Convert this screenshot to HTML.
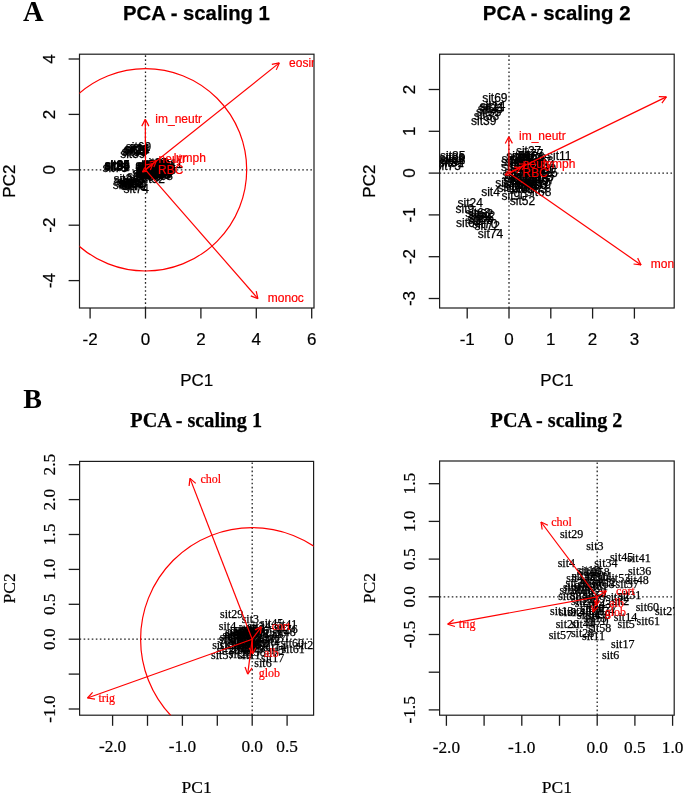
<!DOCTYPE html>
<html><head><meta charset="utf-8"><style>html,body{margin:0;padding:0;background:#fff;overflow:hidden}svg{display:block;filter:blur(0.4px)}</style></head><body>
<svg width="685" height="795" viewBox="0 0 685 795">
<rect width="685" height="795" fill="#fff"/>
<text x="23" y="21.2" font-family='"Liberation Serif", serif' font-size="28.5" fill="#000" text-anchor="start" font-weight="bold" >A</text>
<text x="23.3" y="407.9" font-family='"Liberation Serif", serif' font-size="28" fill="#000" text-anchor="start" font-weight="bold" >B</text>
<text x="196.4" y="20.2" font-family='"Liberation Sans", sans-serif' font-size="20.3" fill="#000" text-anchor="middle" font-weight="bold" stroke="#000" stroke-width="0.25" >PCA - scaling 1</text>
<text x="556.7" y="20.2" font-family='"Liberation Sans", sans-serif' font-size="20.4" fill="#000" text-anchor="middle" font-weight="bold" stroke="#000" stroke-width="0.25" >PCA - scaling 2</text>
<text x="196.2" y="427.2" font-family='"Liberation Serif", serif' font-size="20.2" fill="#000" text-anchor="middle" font-weight="bold" stroke="#000" stroke-width="0.25" >PCA - scaling 1</text>
<text x="556.5" y="427.2" font-family='"Liberation Serif", serif' font-size="20.2" fill="#000" text-anchor="middle" font-weight="bold" stroke="#000" stroke-width="0.25" >PCA - scaling 2</text>
<clipPath id="clipa1"><rect x="79.5" y="54.2" width="234.5" height="253.8"/></clipPath>
<line x1="79.5" y1="169.8" x2="314" y2="169.8" stroke="#222" stroke-width="1.3" stroke-dasharray="1.6 2.45"/>
<line x1="145.5" y1="308" x2="145.5" y2="54.2" stroke="#222" stroke-width="1.3" stroke-dasharray="1.6 2.45"/>
<rect x="79.5" y="54.2" width="234.5" height="253.8" fill="none" stroke="#1c1c1c" stroke-width="1.2"/>
<line x1="90.1" y1="308" x2="90.1" y2="318.6" stroke="#1c1c1c" stroke-width="1.3" />
<text x="90.1" y="345.1" font-family='"Liberation Sans", sans-serif' font-size="17" fill="#000" text-anchor="middle" font-weight="normal" stroke="#000" stroke-width="0.2" >-2</text>
<line x1="145.5" y1="308" x2="145.5" y2="318.6" stroke="#1c1c1c" stroke-width="1.3" />
<text x="145.5" y="345.1" font-family='"Liberation Sans", sans-serif' font-size="17" fill="#000" text-anchor="middle" font-weight="normal" stroke="#000" stroke-width="0.2" >0</text>
<line x1="200.9" y1="308" x2="200.9" y2="318.6" stroke="#1c1c1c" stroke-width="1.3" />
<text x="200.9" y="345.1" font-family='"Liberation Sans", sans-serif' font-size="17" fill="#000" text-anchor="middle" font-weight="normal" stroke="#000" stroke-width="0.2" >2</text>
<line x1="256.3" y1="308" x2="256.3" y2="318.6" stroke="#1c1c1c" stroke-width="1.3" />
<text x="256.3" y="345.1" font-family='"Liberation Sans", sans-serif' font-size="17" fill="#000" text-anchor="middle" font-weight="normal" stroke="#000" stroke-width="0.2" >4</text>
<line x1="311.7" y1="308" x2="311.7" y2="318.6" stroke="#1c1c1c" stroke-width="1.3" />
<text x="311.7" y="345.1" font-family='"Liberation Sans", sans-serif' font-size="17" fill="#000" text-anchor="middle" font-weight="normal" stroke="#000" stroke-width="0.2" >6</text>
<line x1="79.5" y1="280.6" x2="68.6" y2="280.6" stroke="#1c1c1c" stroke-width="1.3" />
<text x="55.2" y="280.6" font-family='"Liberation Sans", sans-serif' font-size="17" fill="#000" text-anchor="middle" font-weight="normal" transform="rotate(-90 55.2 280.6)" stroke="#000" stroke-width="0.2" >-4</text>
<line x1="79.5" y1="225.2" x2="68.6" y2="225.2" stroke="#1c1c1c" stroke-width="1.3" />
<text x="55.2" y="225.2" font-family='"Liberation Sans", sans-serif' font-size="17" fill="#000" text-anchor="middle" font-weight="normal" transform="rotate(-90 55.2 225.2)" stroke="#000" stroke-width="0.2" >-2</text>
<line x1="79.5" y1="169.8" x2="68.6" y2="169.8" stroke="#1c1c1c" stroke-width="1.3" />
<text x="55.2" y="169.8" font-family='"Liberation Sans", sans-serif' font-size="17" fill="#000" text-anchor="middle" font-weight="normal" transform="rotate(-90 55.2 169.8)" stroke="#000" stroke-width="0.2" >0</text>
<line x1="79.5" y1="114.4" x2="68.6" y2="114.4" stroke="#1c1c1c" stroke-width="1.3" />
<text x="55.2" y="114.4" font-family='"Liberation Sans", sans-serif' font-size="17" fill="#000" text-anchor="middle" font-weight="normal" transform="rotate(-90 55.2 114.4)" stroke="#000" stroke-width="0.2" >2</text>
<line x1="79.5" y1="59" x2="68.6" y2="59" stroke="#1c1c1c" stroke-width="1.3" />
<text x="55.2" y="59" font-family='"Liberation Sans", sans-serif' font-size="17" fill="#000" text-anchor="middle" font-weight="normal" transform="rotate(-90 55.2 59)" stroke="#000" stroke-width="0.2" >4</text>
<text x="196.75" y="385.6" font-family='"Liberation Sans", sans-serif' font-size="17" fill="#000" text-anchor="middle" font-weight="normal" stroke="#000" stroke-width="0.2" >PC1</text>
<text x="15.2" y="181.1" font-family='"Liberation Sans", sans-serif' font-size="17" fill="#000" text-anchor="middle" font-weight="normal" transform="rotate(-90 15.2 181.1)" stroke="#000" stroke-width="0.2" >PC2</text>
<g clip-path="url(#clipa1)">
<circle cx="145.5" cy="169.8" r="101.2" fill="none" stroke="#ff0000" stroke-width="1.2"/>
<text x="125.76" y="150.56" font-family='"Liberation Sans", sans-serif' font-size="12" fill="#000" text-anchor="start" font-weight="normal" stroke="#000" stroke-width="0.25" >sit69</text>
<text x="124.66" y="152.94" font-family='"Liberation Sans", sans-serif' font-size="12" fill="#000" text-anchor="start" font-weight="normal" stroke="#000" stroke-width="0.25" >sit14</text>
<text x="124.26" y="153.32" font-family='"Liberation Sans", sans-serif' font-size="12" fill="#000" text-anchor="start" font-weight="normal" stroke="#000" stroke-width="0.25" >sit21</text>
<text x="123.56" y="154" font-family='"Liberation Sans", sans-serif' font-size="12" fill="#000" text-anchor="start" font-weight="normal" stroke="#000" stroke-width="0.25" >sit25</text>
<text x="122.66" y="154.8" font-family='"Liberation Sans", sans-serif' font-size="12" fill="#000" text-anchor="start" font-weight="normal" stroke="#000" stroke-width="0.25" >sit35</text>
<text x="121.56" y="156.04" font-family='"Liberation Sans", sans-serif' font-size="12" fill="#000" text-anchor="start" font-weight="normal" stroke="#000" stroke-width="0.25" >sit33</text>
<text x="120.16" y="157.59" font-family='"Liberation Sans", sans-serif' font-size="12" fill="#000" text-anchor="start" font-weight="normal" stroke="#000" stroke-width="0.25" >sit39</text>
<text x="104.66" y="168.51" font-family='"Liberation Sans", sans-serif' font-size="12" fill="#000" text-anchor="start" font-weight="normal" stroke="#000" stroke-width="0.25" >sit85</text>
<text x="104.41" y="169.13" font-family='"Liberation Sans", sans-serif' font-size="12" fill="#000" text-anchor="start" font-weight="normal" stroke="#000" stroke-width="0.25" >sit86</text>
<text x="104.66" y="169.75" font-family='"Liberation Sans", sans-serif' font-size="12" fill="#000" text-anchor="start" font-weight="normal" stroke="#000" stroke-width="0.25" >sit88</text>
<text x="104.16" y="170.37" font-family='"Liberation Sans", sans-serif' font-size="12" fill="#000" text-anchor="start" font-weight="normal" stroke="#000" stroke-width="0.25" >sit84</text>
<text x="103.91" y="170.83" font-family='"Liberation Sans", sans-serif' font-size="12" fill="#000" text-anchor="start" font-weight="normal" stroke="#000" stroke-width="0.25" >sit81</text>
<text x="102.41" y="171.76" font-family='"Liberation Sans", sans-serif' font-size="12" fill="#000" text-anchor="start" font-weight="normal" stroke="#000" stroke-width="0.25" >sit75</text>
<text x="113.46" y="183.14" font-family='"Liberation Sans", sans-serif' font-size="12" fill="#000" text-anchor="start" font-weight="normal" stroke="#000" stroke-width="0.25" >sit24</text>
<text x="114.08" y="184.94" font-family='"Liberation Sans", sans-serif' font-size="12" fill="#000" text-anchor="start" font-weight="normal" stroke="#000" stroke-width="0.25" >sit9</text>
<text x="117.31" y="186.24" font-family='"Liberation Sans", sans-serif' font-size="12" fill="#000" text-anchor="start" font-weight="normal" stroke="#000" stroke-width="0.25" >sit63</text>
<text x="118.56" y="186.61" font-family='"Liberation Sans", sans-serif' font-size="12" fill="#000" text-anchor="start" font-weight="normal" stroke="#000" stroke-width="0.25" >sit62</text>
<text x="119.56" y="187.04" font-family='"Liberation Sans", sans-serif' font-size="12" fill="#000" text-anchor="start" font-weight="normal" stroke="#000" stroke-width="0.25" >sit42</text>
<text x="118.91" y="187.73" font-family='"Liberation Sans", sans-serif' font-size="12" fill="#000" text-anchor="start" font-weight="normal" stroke="#000" stroke-width="0.25" >sit65</text>
<text x="118.16" y="188.41" font-family='"Liberation Sans", sans-serif' font-size="12" fill="#000" text-anchor="start" font-weight="normal" stroke="#000" stroke-width="0.25" >sit66</text>
<text x="112.66" y="189.21" font-family='"Liberation Sans", sans-serif' font-size="12" fill="#000" text-anchor="start" font-weight="normal" stroke="#000" stroke-width="0.25" >sit64</text>
<text x="120.66" y="189.65" font-family='"Liberation Sans", sans-serif' font-size="12" fill="#000" text-anchor="start" font-weight="normal" stroke="#000" stroke-width="0.25" >sit70</text>
<text x="121.91" y="190.27" font-family='"Liberation Sans", sans-serif' font-size="12" fill="#000" text-anchor="start" font-weight="normal" stroke="#000" stroke-width="0.25" >sit72</text>
<text x="123.56" y="192.62" font-family='"Liberation Sans", sans-serif' font-size="12" fill="#000" text-anchor="start" font-weight="normal" stroke="#000" stroke-width="0.25" >sit74</text>
<text x="142.61" y="167.08" font-family='"Liberation Sans", sans-serif' font-size="12" fill="#000" text-anchor="start" font-weight="normal" stroke="#000" stroke-width="0.25" >sit27</text>
<text x="143.66" y="167.79" font-family='"Liberation Sans", sans-serif' font-size="12" fill="#000" text-anchor="start" font-weight="normal" stroke="#000" stroke-width="0.25" >sit77</text>
<text x="158.16" y="168.47" font-family='"Liberation Sans", sans-serif' font-size="12" fill="#000" text-anchor="start" font-weight="normal" stroke="#000" stroke-width="0.25" >sit11</text>
<text x="126.93" y="179.57" font-family='"Liberation Sans", sans-serif' font-size="12" fill="#000" text-anchor="start" font-weight="normal" stroke="#000" stroke-width="0.25" >sit4</text>
<text x="135.46" y="180.91" font-family='"Liberation Sans", sans-serif' font-size="12" fill="#000" text-anchor="start" font-weight="normal" stroke="#000" stroke-width="0.25" >sit90</text>
<text x="147.66" y="179.73" font-family='"Liberation Sans", sans-serif' font-size="12" fill="#000" text-anchor="start" font-weight="normal" stroke="#000" stroke-width="0.25" >sit68</text>
<text x="147.41" y="177.65" font-family='"Liberation Sans", sans-serif' font-size="12" fill="#000" text-anchor="start" font-weight="normal" stroke="#000" stroke-width="0.25" >sit79</text>
<text x="139.56" y="182.52" font-family='"Liberation Sans", sans-serif' font-size="12" fill="#000" text-anchor="start" font-weight="normal" stroke="#000" stroke-width="0.25" >sit52</text>
<text x="132.26" y="176.94" font-family='"Liberation Sans", sans-serif' font-size="12" fill="#000" text-anchor="start" font-weight="normal" stroke="#000" stroke-width="0.25" >sit38</text>
<text x="133.41" y="178.55" font-family='"Liberation Sans", sans-serif' font-size="12" fill="#000" text-anchor="start" font-weight="normal" stroke="#000" stroke-width="0.25" >sit18</text>
<text x="135.16" y="170.43" font-family='"Liberation Sans", sans-serif' font-size="12" fill="#000" text-anchor="start" font-weight="normal" stroke="#000" stroke-width="0.25" >sit47</text>
<text x="135.16" y="172.07" font-family='"Liberation Sans", sans-serif' font-size="12" fill="#000" text-anchor="start" font-weight="normal" stroke="#000" stroke-width="0.25" >sit48</text>
<text x="137.84" y="168.5" font-family='"Liberation Sans", sans-serif' font-size="12" fill="#000" text-anchor="start" font-weight="normal" stroke="#000" stroke-width="0.25" >sit51</text>
<text x="140.52" y="168.59" font-family='"Liberation Sans", sans-serif' font-size="12" fill="#000" text-anchor="start" font-weight="normal" stroke="#000" stroke-width="0.25" >sit16</text>
<text x="144.29" y="168.82" font-family='"Liberation Sans", sans-serif' font-size="12" fill="#000" text-anchor="start" font-weight="normal" stroke="#000" stroke-width="0.25" >sit56</text>
<text x="135.47" y="169.46" font-family='"Liberation Sans", sans-serif' font-size="12" fill="#000" text-anchor="start" font-weight="normal" stroke="#000" stroke-width="0.25" >sit37</text>
<text x="139.27" y="169.53" font-family='"Liberation Sans", sans-serif' font-size="12" fill="#000" text-anchor="start" font-weight="normal" stroke="#000" stroke-width="0.25" >sit18</text>
<text x="143.15" y="169.26" font-family='"Liberation Sans", sans-serif' font-size="12" fill="#000" text-anchor="start" font-weight="normal" stroke="#000" stroke-width="0.25" >sit17</text>
<text x="145.36" y="169.55" font-family='"Liberation Sans", sans-serif' font-size="12" fill="#000" text-anchor="start" font-weight="normal" stroke="#000" stroke-width="0.25" >sit38</text>
<text x="137.28" y="170.36" font-family='"Liberation Sans", sans-serif' font-size="12" fill="#000" text-anchor="start" font-weight="normal" stroke="#000" stroke-width="0.25" >sit17</text>
<text x="141.48" y="170.65" font-family='"Liberation Sans", sans-serif' font-size="12" fill="#000" text-anchor="start" font-weight="normal" stroke="#000" stroke-width="0.25" >sit38</text>
<text x="147.54" y="170.45" font-family='"Liberation Sans", sans-serif' font-size="12" fill="#000" text-anchor="start" font-weight="normal" stroke="#000" stroke-width="0.25" >sit47</text>
<text x="138.38" y="171.55" font-family='"Liberation Sans", sans-serif' font-size="12" fill="#000" text-anchor="start" font-weight="normal" stroke="#000" stroke-width="0.25" >sit83</text>
<text x="143.07" y="171.4" font-family='"Liberation Sans", sans-serif' font-size="12" fill="#000" text-anchor="start" font-weight="normal" stroke="#000" stroke-width="0.25" >sit33</text>
<text x="149.47" y="171.39" font-family='"Liberation Sans", sans-serif' font-size="12" fill="#000" text-anchor="start" font-weight="normal" stroke="#000" stroke-width="0.25" >sit34</text>
<text x="139.76" y="172.36" font-family='"Liberation Sans", sans-serif' font-size="12" fill="#000" text-anchor="start" font-weight="normal" stroke="#000" stroke-width="0.25" >sit18</text>
<text x="144.93" y="172.24" font-family='"Liberation Sans", sans-serif' font-size="12" fill="#000" text-anchor="start" font-weight="normal" stroke="#000" stroke-width="0.25" >sit73</text>
<text x="150.11" y="172.55" font-family='"Liberation Sans", sans-serif' font-size="12" fill="#000" text-anchor="start" font-weight="normal" stroke="#000" stroke-width="0.25" >sit50</text>
<text x="136.86" y="173.4" font-family='"Liberation Sans", sans-serif' font-size="12" fill="#000" text-anchor="start" font-weight="normal" stroke="#000" stroke-width="0.25" >sit56</text>
<text x="142.58" y="172.96" font-family='"Liberation Sans", sans-serif' font-size="12" fill="#000" text-anchor="start" font-weight="normal" stroke="#000" stroke-width="0.25" >sit99</text>
<text x="148.2" y="173.45" font-family='"Liberation Sans", sans-serif' font-size="12" fill="#000" text-anchor="start" font-weight="normal" stroke="#000" stroke-width="0.25" >sit48</text>
<text x="135.85" y="174.45" font-family='"Liberation Sans", sans-serif' font-size="12" fill="#000" text-anchor="start" font-weight="normal" stroke="#000" stroke-width="0.25" >sit67</text>
<text x="141.18" y="173.94" font-family='"Liberation Sans", sans-serif' font-size="12" fill="#000" text-anchor="start" font-weight="normal" stroke="#000" stroke-width="0.25" >sit25</text>
<text x="146.14" y="174.14" font-family='"Liberation Sans", sans-serif' font-size="12" fill="#000" text-anchor="start" font-weight="normal" stroke="#000" stroke-width="0.25" >sit53</text>
<text x="150.86" y="173.89" font-family='"Liberation Sans", sans-serif' font-size="12" fill="#000" text-anchor="start" font-weight="normal" stroke="#000" stroke-width="0.25" >sit15</text>
<text x="136.77" y="175.31" font-family='"Liberation Sans", sans-serif' font-size="12" fill="#000" text-anchor="start" font-weight="normal" stroke="#000" stroke-width="0.25" >sit81</text>
<text x="142.42" y="174.99" font-family='"Liberation Sans", sans-serif' font-size="12" fill="#000" text-anchor="start" font-weight="normal" stroke="#000" stroke-width="0.25" >sit50</text>
<text x="148.78" y="175.05" font-family='"Liberation Sans", sans-serif' font-size="12" fill="#000" text-anchor="start" font-weight="normal" stroke="#000" stroke-width="0.25" >sit73</text>
<text x="136.33" y="175.99" font-family='"Liberation Sans", sans-serif' font-size="12" fill="#000" text-anchor="start" font-weight="normal" stroke="#000" stroke-width="0.25" >sit21</text>
<text x="140.01" y="176.15" font-family='"Liberation Sans", sans-serif' font-size="12" fill="#000" text-anchor="start" font-weight="normal" stroke="#000" stroke-width="0.25" >sit95</text>
<text x="146.38" y="176.31" font-family='"Liberation Sans", sans-serif' font-size="12" fill="#000" text-anchor="start" font-weight="normal" stroke="#000" stroke-width="0.25" >sit49</text>
<text x="149.34" y="175.94" font-family='"Liberation Sans", sans-serif' font-size="12" fill="#000" text-anchor="start" font-weight="normal" stroke="#000" stroke-width="0.25" >sit67</text>
<text x="137.43" y="177.21" font-family='"Liberation Sans", sans-serif' font-size="12" fill="#000" text-anchor="start" font-weight="normal" stroke="#000" stroke-width="0.25" >sit95</text>
<text x="142.67" y="176.7" font-family='"Liberation Sans", sans-serif' font-size="12" fill="#000" text-anchor="start" font-weight="normal" stroke="#000" stroke-width="0.25" >sit55</text>
<text x="147.24" y="176.81" font-family='"Liberation Sans", sans-serif' font-size="12" fill="#000" text-anchor="start" font-weight="normal" stroke="#000" stroke-width="0.25" >sit17</text>
<text x="136.01" y="178.13" font-family='"Liberation Sans", sans-serif' font-size="12" fill="#000" text-anchor="start" font-weight="normal" stroke="#000" stroke-width="0.25" >sit41</text>
<text x="140.53" y="177.84" font-family='"Liberation Sans", sans-serif' font-size="12" fill="#000" text-anchor="start" font-weight="normal" stroke="#000" stroke-width="0.25" >sit73</text>
<text x="145.33" y="177.64" font-family='"Liberation Sans", sans-serif' font-size="12" fill="#000" text-anchor="start" font-weight="normal" stroke="#000" stroke-width="0.25" >sit80</text>
<text x="139.21" y="178.66" font-family='"Liberation Sans", sans-serif' font-size="12" fill="#000" text-anchor="start" font-weight="normal" stroke="#000" stroke-width="0.25" >sit65</text>
<text x="145.39" y="178.91" font-family='"Liberation Sans", sans-serif' font-size="12" fill="#000" text-anchor="start" font-weight="normal" stroke="#000" stroke-width="0.25" >sit63</text>
<line x1="145.5" y1="169.8" x2="145.3" y2="119.4" stroke="#ff0000" stroke-width="1.2" />
<line x1="145.3" y1="119.4" x2="141.76" y2="126.12" stroke="#ff0000" stroke-width="1.2" />
<line x1="145.3" y1="119.4" x2="148.89" y2="126.1" stroke="#ff0000" stroke-width="1.2" />
<line x1="145.5" y1="169.8" x2="279.3" y2="62.9" stroke="#ff0000" stroke-width="1.2" />
<line x1="279.3" y1="62.9" x2="271.83" y2="64.3" stroke="#ff0000" stroke-width="1.2" />
<line x1="279.3" y1="62.9" x2="276.28" y2="69.88" stroke="#ff0000" stroke-width="1.2" />
<line x1="145.5" y1="169.8" x2="257.9" y2="298.6" stroke="#ff0000" stroke-width="1.2" />
<line x1="257.9" y1="298.6" x2="256.18" y2="291.2" stroke="#ff0000" stroke-width="1.2" />
<line x1="257.9" y1="298.6" x2="250.8" y2="295.89" stroke="#ff0000" stroke-width="1.2" />
<line x1="145.5" y1="169.8" x2="156.5" y2="160.5" stroke="#ff0000" stroke-width="1.2" />
<line x1="156.5" y1="160.5" x2="149.66" y2="161.98" stroke="#ff0000" stroke-width="1.2" />
<line x1="156.5" y1="160.5" x2="153.9" y2="167" stroke="#ff0000" stroke-width="1.2" />
<line x1="145.5" y1="169.8" x2="153" y2="163.5" stroke="#ff0000" stroke-width="1.2" />
<line x1="153" y1="163.5" x2="146.15" y2="164.96" stroke="#ff0000" stroke-width="1.2" />
<line x1="153" y1="163.5" x2="150.38" y2="169.99" stroke="#ff0000" stroke-width="1.2" />
<line x1="145.5" y1="169.8" x2="142.5" y2="172" stroke="#ff0000" stroke-width="1.2" />
<line x1="142.5" y1="172" x2="147.45" y2="171.28" stroke="#ff0000" stroke-width="1.2" />
<line x1="142.5" y1="172" x2="144.67" y2="167.5" stroke="#ff0000" stroke-width="1.2" />
<text x="155.3" y="122.9" font-family='"Liberation Sans", sans-serif' font-size="12" fill="#ff0000" text-anchor="start" font-weight="normal" stroke="#ff0000" stroke-width="0.2" >im_neutr</text>
<text x="289.1" y="67.1" font-family='"Liberation Sans", sans-serif' font-size="12" fill="#ff0000" text-anchor="start" font-weight="normal" stroke="#ff0000" stroke-width="0.2" >eosin</text>
<text x="267.8" y="302.2" font-family='"Liberation Sans", sans-serif' font-size="12" fill="#ff0000" text-anchor="start" font-weight="normal" stroke="#ff0000" stroke-width="0.2" >monoc</text>
<text x="158.6" y="163.2" font-family='"Liberation Sans", sans-serif' font-size="12" fill="#ff0000" text-anchor="start" font-weight="normal" stroke="#ff0000" stroke-width="0.2" >neutr</text>
<text x="173.8" y="162.2" font-family='"Liberation Sans", sans-serif' font-size="12" fill="#ff0000" text-anchor="start" font-weight="normal" stroke="#ff0000" stroke-width="0.2" >lymph</text>
<text x="158" y="173.6" font-family='"Liberation Sans", sans-serif' font-size="12" fill="#ff0000" text-anchor="start" font-weight="normal" stroke="#ff0000" stroke-width="0.2" >RBC</text>
</g>
<clipPath id="clipa2"><rect x="439.6" y="54.2" width="234.6" height="253.8"/></clipPath>
<line x1="439.6" y1="173.1" x2="674.2" y2="173.1" stroke="#222" stroke-width="1.3" stroke-dasharray="1.6 2.45"/>
<line x1="509" y1="308" x2="509" y2="54.2" stroke="#222" stroke-width="1.3" stroke-dasharray="1.6 2.45"/>
<rect x="439.6" y="54.2" width="234.6" height="253.8" fill="none" stroke="#1c1c1c" stroke-width="1.2"/>
<line x1="467.2" y1="308" x2="467.2" y2="318.6" stroke="#1c1c1c" stroke-width="1.3" />
<text x="467.2" y="345.1" font-family='"Liberation Sans", sans-serif' font-size="17" fill="#000" text-anchor="middle" font-weight="normal" stroke="#000" stroke-width="0.2" >-1</text>
<line x1="509" y1="308" x2="509" y2="318.6" stroke="#1c1c1c" stroke-width="1.3" />
<text x="509" y="345.1" font-family='"Liberation Sans", sans-serif' font-size="17" fill="#000" text-anchor="middle" font-weight="normal" stroke="#000" stroke-width="0.2" >0</text>
<line x1="550.8" y1="308" x2="550.8" y2="318.6" stroke="#1c1c1c" stroke-width="1.3" />
<text x="550.8" y="345.1" font-family='"Liberation Sans", sans-serif' font-size="17" fill="#000" text-anchor="middle" font-weight="normal" stroke="#000" stroke-width="0.2" >1</text>
<line x1="592.6" y1="308" x2="592.6" y2="318.6" stroke="#1c1c1c" stroke-width="1.3" />
<text x="592.6" y="345.1" font-family='"Liberation Sans", sans-serif' font-size="17" fill="#000" text-anchor="middle" font-weight="normal" stroke="#000" stroke-width="0.2" >2</text>
<line x1="634.4" y1="308" x2="634.4" y2="318.6" stroke="#1c1c1c" stroke-width="1.3" />
<text x="634.4" y="345.1" font-family='"Liberation Sans", sans-serif' font-size="17" fill="#000" text-anchor="middle" font-weight="normal" stroke="#000" stroke-width="0.2" >3</text>
<line x1="439.6" y1="298.5" x2="428.7" y2="298.5" stroke="#1c1c1c" stroke-width="1.3" />
<text x="415.3" y="298.5" font-family='"Liberation Sans", sans-serif' font-size="17" fill="#000" text-anchor="middle" font-weight="normal" transform="rotate(-90 415.3 298.5)" stroke="#000" stroke-width="0.2" >-3</text>
<line x1="439.6" y1="256.7" x2="428.7" y2="256.7" stroke="#1c1c1c" stroke-width="1.3" />
<text x="415.3" y="256.7" font-family='"Liberation Sans", sans-serif' font-size="17" fill="#000" text-anchor="middle" font-weight="normal" transform="rotate(-90 415.3 256.7)" stroke="#000" stroke-width="0.2" >-2</text>
<line x1="439.6" y1="214.9" x2="428.7" y2="214.9" stroke="#1c1c1c" stroke-width="1.3" />
<text x="415.3" y="214.9" font-family='"Liberation Sans", sans-serif' font-size="17" fill="#000" text-anchor="middle" font-weight="normal" transform="rotate(-90 415.3 214.9)" stroke="#000" stroke-width="0.2" >-1</text>
<line x1="439.6" y1="173.1" x2="428.7" y2="173.1" stroke="#1c1c1c" stroke-width="1.3" />
<text x="415.3" y="173.1" font-family='"Liberation Sans", sans-serif' font-size="17" fill="#000" text-anchor="middle" font-weight="normal" transform="rotate(-90 415.3 173.1)" stroke="#000" stroke-width="0.2" >0</text>
<line x1="439.6" y1="131.3" x2="428.7" y2="131.3" stroke="#1c1c1c" stroke-width="1.3" />
<text x="415.3" y="131.3" font-family='"Liberation Sans", sans-serif' font-size="17" fill="#000" text-anchor="middle" font-weight="normal" transform="rotate(-90 415.3 131.3)" stroke="#000" stroke-width="0.2" >1</text>
<line x1="439.6" y1="89.5" x2="428.7" y2="89.5" stroke="#1c1c1c" stroke-width="1.3" />
<text x="415.3" y="89.5" font-family='"Liberation Sans", sans-serif' font-size="17" fill="#000" text-anchor="middle" font-weight="normal" transform="rotate(-90 415.3 89.5)" stroke="#000" stroke-width="0.2" >2</text>
<text x="556.9" y="385.6" font-family='"Liberation Sans", sans-serif' font-size="17" fill="#000" text-anchor="middle" font-weight="normal" stroke="#000" stroke-width="0.2" >PC1</text>
<text x="375.3" y="181.1" font-family='"Liberation Sans", sans-serif' font-size="17" fill="#000" text-anchor="middle" font-weight="normal" transform="rotate(-90 375.3 181.1)" stroke="#000" stroke-width="0.2" >PC2</text>
<g clip-path="url(#clipa2)">
<text x="482.2" y="101.9" font-family='"Liberation Sans", sans-serif' font-size="12" fill="#000" text-anchor="start" font-weight="normal" stroke="#000" stroke-width="0.25" >sit69</text>
<text x="480" y="109.6" font-family='"Liberation Sans", sans-serif' font-size="12" fill="#000" text-anchor="start" font-weight="normal" stroke="#000" stroke-width="0.25" >sit14</text>
<text x="479.2" y="110.8" font-family='"Liberation Sans", sans-serif' font-size="12" fill="#000" text-anchor="start" font-weight="normal" stroke="#000" stroke-width="0.25" >sit21</text>
<text x="477.8" y="113" font-family='"Liberation Sans", sans-serif' font-size="12" fill="#000" text-anchor="start" font-weight="normal" stroke="#000" stroke-width="0.25" >sit25</text>
<text x="476" y="115.6" font-family='"Liberation Sans", sans-serif' font-size="12" fill="#000" text-anchor="start" font-weight="normal" stroke="#000" stroke-width="0.25" >sit35</text>
<text x="473.8" y="119.6" font-family='"Liberation Sans", sans-serif' font-size="12" fill="#000" text-anchor="start" font-weight="normal" stroke="#000" stroke-width="0.25" >sit33</text>
<text x="471" y="124.6" font-family='"Liberation Sans", sans-serif' font-size="12" fill="#000" text-anchor="start" font-weight="normal" stroke="#000" stroke-width="0.25" >sit39</text>
<text x="440" y="159.8" font-family='"Liberation Sans", sans-serif' font-size="12" fill="#000" text-anchor="start" font-weight="normal" stroke="#000" stroke-width="0.25" >sit85</text>
<text x="439.5" y="161.8" font-family='"Liberation Sans", sans-serif' font-size="12" fill="#000" text-anchor="start" font-weight="normal" stroke="#000" stroke-width="0.25" >sit86</text>
<text x="440" y="163.8" font-family='"Liberation Sans", sans-serif' font-size="12" fill="#000" text-anchor="start" font-weight="normal" stroke="#000" stroke-width="0.25" >sit88</text>
<text x="439" y="165.8" font-family='"Liberation Sans", sans-serif' font-size="12" fill="#000" text-anchor="start" font-weight="normal" stroke="#000" stroke-width="0.25" >sit84</text>
<text x="438.5" y="167.3" font-family='"Liberation Sans", sans-serif' font-size="12" fill="#000" text-anchor="start" font-weight="normal" stroke="#000" stroke-width="0.25" >sit81</text>
<text x="435.5" y="170.3" font-family='"Liberation Sans", sans-serif' font-size="12" fill="#000" text-anchor="start" font-weight="normal" stroke="#000" stroke-width="0.25" >sit75</text>
<text x="457.6" y="207" font-family='"Liberation Sans", sans-serif' font-size="12" fill="#000" text-anchor="start" font-weight="normal" stroke="#000" stroke-width="0.25" >sit24</text>
<text x="455.5" y="212.8" font-family='"Liberation Sans", sans-serif' font-size="12" fill="#000" text-anchor="start" font-weight="normal" stroke="#000" stroke-width="0.25" >sit9</text>
<text x="465.3" y="217" font-family='"Liberation Sans", sans-serif' font-size="12" fill="#000" text-anchor="start" font-weight="normal" stroke="#000" stroke-width="0.25" >sit63</text>
<text x="467.8" y="218.2" font-family='"Liberation Sans", sans-serif' font-size="12" fill="#000" text-anchor="start" font-weight="normal" stroke="#000" stroke-width="0.25" >sit62</text>
<text x="469.8" y="219.6" font-family='"Liberation Sans", sans-serif' font-size="12" fill="#000" text-anchor="start" font-weight="normal" stroke="#000" stroke-width="0.25" >sit42</text>
<text x="468.5" y="221.8" font-family='"Liberation Sans", sans-serif' font-size="12" fill="#000" text-anchor="start" font-weight="normal" stroke="#000" stroke-width="0.25" >sit65</text>
<text x="467" y="224" font-family='"Liberation Sans", sans-serif' font-size="12" fill="#000" text-anchor="start" font-weight="normal" stroke="#000" stroke-width="0.25" >sit66</text>
<text x="456" y="226.6" font-family='"Liberation Sans", sans-serif' font-size="12" fill="#000" text-anchor="start" font-weight="normal" stroke="#000" stroke-width="0.25" >sit64</text>
<text x="472" y="228" font-family='"Liberation Sans", sans-serif' font-size="12" fill="#000" text-anchor="start" font-weight="normal" stroke="#000" stroke-width="0.25" >sit70</text>
<text x="474.5" y="230" font-family='"Liberation Sans", sans-serif' font-size="12" fill="#000" text-anchor="start" font-weight="normal" stroke="#000" stroke-width="0.25" >sit72</text>
<text x="477.8" y="237.6" font-family='"Liberation Sans", sans-serif' font-size="12" fill="#000" text-anchor="start" font-weight="normal" stroke="#000" stroke-width="0.25" >sit74</text>
<text x="515.9" y="155.2" font-family='"Liberation Sans", sans-serif' font-size="12" fill="#000" text-anchor="start" font-weight="normal" stroke="#000" stroke-width="0.25" >sit27</text>
<text x="518" y="157.5" font-family='"Liberation Sans", sans-serif' font-size="12" fill="#000" text-anchor="start" font-weight="normal" stroke="#000" stroke-width="0.25" >sit77</text>
<text x="547" y="159.7" font-family='"Liberation Sans", sans-serif' font-size="12" fill="#000" text-anchor="start" font-weight="normal" stroke="#000" stroke-width="0.25" >sit11</text>
<text x="481.2" y="195.5" font-family='"Liberation Sans", sans-serif' font-size="12" fill="#000" text-anchor="start" font-weight="normal" stroke="#000" stroke-width="0.25" >sit4</text>
<text x="501.6" y="199.8" font-family='"Liberation Sans", sans-serif' font-size="12" fill="#000" text-anchor="start" font-weight="normal" stroke="#000" stroke-width="0.25" >sit90</text>
<text x="526" y="196" font-family='"Liberation Sans", sans-serif' font-size="12" fill="#000" text-anchor="start" font-weight="normal" stroke="#000" stroke-width="0.25" >sit68</text>
<text x="525.5" y="189.3" font-family='"Liberation Sans", sans-serif' font-size="12" fill="#000" text-anchor="start" font-weight="normal" stroke="#000" stroke-width="0.25" >sit79</text>
<text x="509.8" y="205" font-family='"Liberation Sans", sans-serif' font-size="12" fill="#000" text-anchor="start" font-weight="normal" stroke="#000" stroke-width="0.25" >sit52</text>
<text x="495.2" y="187" font-family='"Liberation Sans", sans-serif' font-size="12" fill="#000" text-anchor="start" font-weight="normal" stroke="#000" stroke-width="0.25" >sit38</text>
<text x="497.5" y="192.2" font-family='"Liberation Sans", sans-serif' font-size="12" fill="#000" text-anchor="start" font-weight="normal" stroke="#000" stroke-width="0.25" >sit18</text>
<text x="501" y="166" font-family='"Liberation Sans", sans-serif' font-size="12" fill="#000" text-anchor="start" font-weight="normal" stroke="#000" stroke-width="0.25" >sit47</text>
<text x="501" y="171.3" font-family='"Liberation Sans", sans-serif' font-size="12" fill="#000" text-anchor="start" font-weight="normal" stroke="#000" stroke-width="0.25" >sit48</text>
<text x="506.34" y="159.79" font-family='"Liberation Sans", sans-serif' font-size="12" fill="#000" text-anchor="start" font-weight="normal" stroke="#000" stroke-width="0.25" >sit51</text>
<text x="511.72" y="160.07" font-family='"Liberation Sans", sans-serif' font-size="12" fill="#000" text-anchor="start" font-weight="normal" stroke="#000" stroke-width="0.25" >sit16</text>
<text x="519.25" y="160.82" font-family='"Liberation Sans", sans-serif' font-size="12" fill="#000" text-anchor="start" font-weight="normal" stroke="#000" stroke-width="0.25" >sit56</text>
<text x="501.61" y="162.87" font-family='"Liberation Sans", sans-serif' font-size="12" fill="#000" text-anchor="start" font-weight="normal" stroke="#000" stroke-width="0.25" >sit37</text>
<text x="509.22" y="163.1" font-family='"Liberation Sans", sans-serif' font-size="12" fill="#000" text-anchor="start" font-weight="normal" stroke="#000" stroke-width="0.25" >sit18</text>
<text x="516.98" y="162.25" font-family='"Liberation Sans", sans-serif' font-size="12" fill="#000" text-anchor="start" font-weight="normal" stroke="#000" stroke-width="0.25" >sit17</text>
<text x="521.39" y="163.17" font-family='"Liberation Sans", sans-serif' font-size="12" fill="#000" text-anchor="start" font-weight="normal" stroke="#000" stroke-width="0.25" >sit38</text>
<text x="505.23" y="165.79" font-family='"Liberation Sans", sans-serif' font-size="12" fill="#000" text-anchor="start" font-weight="normal" stroke="#000" stroke-width="0.25" >sit17</text>
<text x="513.64" y="166.72" font-family='"Liberation Sans", sans-serif' font-size="12" fill="#000" text-anchor="start" font-weight="normal" stroke="#000" stroke-width="0.25" >sit38</text>
<text x="525.76" y="166.08" font-family='"Liberation Sans", sans-serif' font-size="12" fill="#000" text-anchor="start" font-weight="normal" stroke="#000" stroke-width="0.25" >sit47</text>
<text x="507.43" y="169.63" font-family='"Liberation Sans", sans-serif' font-size="12" fill="#000" text-anchor="start" font-weight="normal" stroke="#000" stroke-width="0.25" >sit83</text>
<text x="516.81" y="169.14" font-family='"Liberation Sans", sans-serif' font-size="12" fill="#000" text-anchor="start" font-weight="normal" stroke="#000" stroke-width="0.25" >sit33</text>
<text x="529.62" y="169.1" font-family='"Liberation Sans", sans-serif' font-size="12" fill="#000" text-anchor="start" font-weight="normal" stroke="#000" stroke-width="0.25" >sit34</text>
<text x="510.19" y="172.24" font-family='"Liberation Sans", sans-serif' font-size="12" fill="#000" text-anchor="start" font-weight="normal" stroke="#000" stroke-width="0.25" >sit18</text>
<text x="520.54" y="171.86" font-family='"Liberation Sans", sans-serif' font-size="12" fill="#000" text-anchor="start" font-weight="normal" stroke="#000" stroke-width="0.25" >sit73</text>
<text x="530.9" y="172.85" font-family='"Liberation Sans", sans-serif' font-size="12" fill="#000" text-anchor="start" font-weight="normal" stroke="#000" stroke-width="0.25" >sit50</text>
<text x="504.4" y="175.59" font-family='"Liberation Sans", sans-serif' font-size="12" fill="#000" text-anchor="start" font-weight="normal" stroke="#000" stroke-width="0.25" >sit56</text>
<text x="515.84" y="174.16" font-family='"Liberation Sans", sans-serif' font-size="12" fill="#000" text-anchor="start" font-weight="normal" stroke="#000" stroke-width="0.25" >sit99</text>
<text x="527.08" y="175.75" font-family='"Liberation Sans", sans-serif' font-size="12" fill="#000" text-anchor="start" font-weight="normal" stroke="#000" stroke-width="0.25" >sit48</text>
<text x="502.36" y="178.96" font-family='"Liberation Sans", sans-serif' font-size="12" fill="#000" text-anchor="start" font-weight="normal" stroke="#000" stroke-width="0.25" >sit67</text>
<text x="513.04" y="177.33" font-family='"Liberation Sans", sans-serif' font-size="12" fill="#000" text-anchor="start" font-weight="normal" stroke="#000" stroke-width="0.25" >sit25</text>
<text x="522.96" y="177.98" font-family='"Liberation Sans", sans-serif' font-size="12" fill="#000" text-anchor="start" font-weight="normal" stroke="#000" stroke-width="0.25" >sit53</text>
<text x="532.39" y="177.16" font-family='"Liberation Sans", sans-serif' font-size="12" fill="#000" text-anchor="start" font-weight="normal" stroke="#000" stroke-width="0.25" >sit15</text>
<text x="504.22" y="181.75" font-family='"Liberation Sans", sans-serif' font-size="12" fill="#000" text-anchor="start" font-weight="normal" stroke="#000" stroke-width="0.25" >sit81</text>
<text x="515.52" y="180.7" font-family='"Liberation Sans", sans-serif' font-size="12" fill="#000" text-anchor="start" font-weight="normal" stroke="#000" stroke-width="0.25" >sit50</text>
<text x="528.24" y="180.91" font-family='"Liberation Sans", sans-serif' font-size="12" fill="#000" text-anchor="start" font-weight="normal" stroke="#000" stroke-width="0.25" >sit73</text>
<text x="503.33" y="183.95" font-family='"Liberation Sans", sans-serif' font-size="12" fill="#000" text-anchor="start" font-weight="normal" stroke="#000" stroke-width="0.25" >sit21</text>
<text x="510.69" y="184.46" font-family='"Liberation Sans", sans-serif' font-size="12" fill="#000" text-anchor="start" font-weight="normal" stroke="#000" stroke-width="0.25" >sit95</text>
<text x="523.44" y="184.99" font-family='"Liberation Sans", sans-serif' font-size="12" fill="#000" text-anchor="start" font-weight="normal" stroke="#000" stroke-width="0.25" >sit49</text>
<text x="529.35" y="183.77" font-family='"Liberation Sans", sans-serif' font-size="12" fill="#000" text-anchor="start" font-weight="normal" stroke="#000" stroke-width="0.25" >sit67</text>
<text x="505.54" y="187.88" font-family='"Liberation Sans", sans-serif' font-size="12" fill="#000" text-anchor="start" font-weight="normal" stroke="#000" stroke-width="0.25" >sit95</text>
<text x="516" y="186.23" font-family='"Liberation Sans", sans-serif' font-size="12" fill="#000" text-anchor="start" font-weight="normal" stroke="#000" stroke-width="0.25" >sit55</text>
<text x="525.15" y="186.57" font-family='"Liberation Sans", sans-serif' font-size="12" fill="#000" text-anchor="start" font-weight="normal" stroke="#000" stroke-width="0.25" >sit17</text>
<text x="502.69" y="190.83" font-family='"Liberation Sans", sans-serif' font-size="12" fill="#000" text-anchor="start" font-weight="normal" stroke="#000" stroke-width="0.25" >sit41</text>
<text x="511.74" y="189.9" font-family='"Liberation Sans", sans-serif' font-size="12" fill="#000" text-anchor="start" font-weight="normal" stroke="#000" stroke-width="0.25" >sit73</text>
<text x="521.33" y="189.27" font-family='"Liberation Sans", sans-serif' font-size="12" fill="#000" text-anchor="start" font-weight="normal" stroke="#000" stroke-width="0.25" >sit80</text>
<text x="509.09" y="192.56" font-family='"Liberation Sans", sans-serif' font-size="12" fill="#000" text-anchor="start" font-weight="normal" stroke="#000" stroke-width="0.25" >sit65</text>
<text x="521.46" y="193.37" font-family='"Liberation Sans", sans-serif' font-size="12" fill="#000" text-anchor="start" font-weight="normal" stroke="#000" stroke-width="0.25" >sit63</text>
<line x1="509" y1="173.1" x2="508.8" y2="136.7" stroke="#ff0000" stroke-width="1.2" />
<line x1="508.8" y1="136.7" x2="505.27" y2="143.43" stroke="#ff0000" stroke-width="1.2" />
<line x1="508.8" y1="136.7" x2="512.4" y2="143.39" stroke="#ff0000" stroke-width="1.2" />
<line x1="509" y1="173.1" x2="666.4" y2="96.9" stroke="#ff0000" stroke-width="1.2" />
<line x1="666.4" y1="96.9" x2="658.81" y2="96.61" stroke="#ff0000" stroke-width="1.2" />
<line x1="666.4" y1="96.9" x2="661.91" y2="103.04" stroke="#ff0000" stroke-width="1.2" />
<line x1="509" y1="173.1" x2="641.1" y2="264.9" stroke="#ff0000" stroke-width="1.2" />
<line x1="641.1" y1="264.9" x2="637.63" y2="258.14" stroke="#ff0000" stroke-width="1.2" />
<line x1="641.1" y1="264.9" x2="633.55" y2="264" stroke="#ff0000" stroke-width="1.2" />
<line x1="509" y1="173.1" x2="526" y2="164" stroke="#ff0000" stroke-width="1.2" />
<line x1="526" y1="164" x2="519" y2="164.02" stroke="#ff0000" stroke-width="1.2" />
<line x1="526" y1="164" x2="522.1" y2="169.81" stroke="#ff0000" stroke-width="1.2" />
<line x1="509" y1="173.1" x2="521" y2="167.5" stroke="#ff0000" stroke-width="1.2" />
<line x1="521" y1="167.5" x2="514.01" y2="167.14" stroke="#ff0000" stroke-width="1.2" />
<line x1="521" y1="167.5" x2="516.79" y2="173.09" stroke="#ff0000" stroke-width="1.2" />
<line x1="509" y1="173.1" x2="505" y2="175" stroke="#ff0000" stroke-width="1.2" />
<line x1="505" y1="175" x2="509.99" y2="175.23" stroke="#ff0000" stroke-width="1.2" />
<line x1="505" y1="175" x2="507.98" y2="170.99" stroke="#ff0000" stroke-width="1.2" />
<text x="519" y="140.4" font-family='"Liberation Sans", sans-serif' font-size="12" fill="#ff0000" text-anchor="start" font-weight="normal" stroke="#ff0000" stroke-width="0.2" >im_neutr</text>
<text x="522.8" y="168" font-family='"Liberation Sans", sans-serif' font-size="12" fill="#ff0000" text-anchor="start" font-weight="normal" stroke="#ff0000" stroke-width="0.2" >neutr</text>
<text x="543.3" y="167.7" font-family='"Liberation Sans", sans-serif' font-size="12" fill="#ff0000" text-anchor="start" font-weight="normal" stroke="#ff0000" stroke-width="0.2" >lymph</text>
<text x="522.6" y="177.2" font-family='"Liberation Sans", sans-serif' font-size="12" fill="#ff0000" text-anchor="start" font-weight="normal" stroke="#ff0000" stroke-width="0.2" >RBC</text>
<text x="650.8" y="268.3" font-family='"Liberation Sans", sans-serif' font-size="12" fill="#ff0000" text-anchor="start" font-weight="normal" stroke="#ff0000" stroke-width="0.2" >monoc</text>
<text x="676.5" y="101" font-family='"Liberation Sans", sans-serif' font-size="12" fill="#ff0000" text-anchor="start" font-weight="normal" stroke="#ff0000" stroke-width="0.2" >eosin</text>
</g>
<clipPath id="clipb1"><rect x="79.6" y="461.4" width="234" height="253.8"/></clipPath>
<line x1="79.6" y1="639.2" x2="313.6" y2="639.2" stroke="#222" stroke-width="1.3" stroke-dasharray="1.6 2.45"/>
<line x1="252.2" y1="715.2" x2="252.2" y2="461.4" stroke="#222" stroke-width="1.3" stroke-dasharray="1.6 2.45"/>
<rect x="79.6" y="461.4" width="234" height="253.8" fill="none" stroke="#1c1c1c" stroke-width="1.2"/>
<line x1="112.6" y1="715.2" x2="112.6" y2="725.8" stroke="#1c1c1c" stroke-width="1.3" />
<text x="112.6" y="752.4" font-family='"Liberation Serif", serif' font-size="17.3" fill="#000" text-anchor="middle" font-weight="normal" stroke="#000" stroke-width="0.2" >-2.0</text>
<line x1="147.5" y1="715.2" x2="147.5" y2="725.8" stroke="#1c1c1c" stroke-width="1.3" />
<line x1="182.4" y1="715.2" x2="182.4" y2="725.8" stroke="#1c1c1c" stroke-width="1.3" />
<text x="182.4" y="752.4" font-family='"Liberation Serif", serif' font-size="17.3" fill="#000" text-anchor="middle" font-weight="normal" stroke="#000" stroke-width="0.2" >-1.0</text>
<line x1="217.3" y1="715.2" x2="217.3" y2="725.8" stroke="#1c1c1c" stroke-width="1.3" />
<line x1="252.2" y1="715.2" x2="252.2" y2="725.8" stroke="#1c1c1c" stroke-width="1.3" />
<text x="252.2" y="752.4" font-family='"Liberation Serif", serif' font-size="17.3" fill="#000" text-anchor="middle" font-weight="normal" stroke="#000" stroke-width="0.2" >0.0</text>
<line x1="287.1" y1="715.2" x2="287.1" y2="725.8" stroke="#1c1c1c" stroke-width="1.3" />
<text x="287.1" y="752.4" font-family='"Liberation Serif", serif' font-size="17.3" fill="#000" text-anchor="middle" font-weight="normal" stroke="#000" stroke-width="0.2" >0.5</text>
<line x1="79.6" y1="709" x2="68.7" y2="709" stroke="#1c1c1c" stroke-width="1.3" />
<text x="55.4" y="709" font-family='"Liberation Serif", serif' font-size="17.3" fill="#000" text-anchor="middle" font-weight="normal" transform="rotate(-90 55.4 709)" stroke="#000" stroke-width="0.2" >-1.0</text>
<line x1="79.6" y1="674.1" x2="68.7" y2="674.1" stroke="#1c1c1c" stroke-width="1.3" />
<line x1="79.6" y1="639.2" x2="68.7" y2="639.2" stroke="#1c1c1c" stroke-width="1.3" />
<text x="55.4" y="639.2" font-family='"Liberation Serif", serif' font-size="17.3" fill="#000" text-anchor="middle" font-weight="normal" transform="rotate(-90 55.4 639.2)" stroke="#000" stroke-width="0.2" >0.0</text>
<line x1="79.6" y1="604.3" x2="68.7" y2="604.3" stroke="#1c1c1c" stroke-width="1.3" />
<text x="55.4" y="604.3" font-family='"Liberation Serif", serif' font-size="17.3" fill="#000" text-anchor="middle" font-weight="normal" transform="rotate(-90 55.4 604.3)" stroke="#000" stroke-width="0.2" >0.5</text>
<line x1="79.6" y1="569.4" x2="68.7" y2="569.4" stroke="#1c1c1c" stroke-width="1.3" />
<text x="55.4" y="569.4" font-family='"Liberation Serif", serif' font-size="17.3" fill="#000" text-anchor="middle" font-weight="normal" transform="rotate(-90 55.4 569.4)" stroke="#000" stroke-width="0.2" >1.0</text>
<line x1="79.6" y1="534.5" x2="68.7" y2="534.5" stroke="#1c1c1c" stroke-width="1.3" />
<text x="55.4" y="534.5" font-family='"Liberation Serif", serif' font-size="17.3" fill="#000" text-anchor="middle" font-weight="normal" transform="rotate(-90 55.4 534.5)" stroke="#000" stroke-width="0.2" >1.5</text>
<line x1="79.6" y1="499.6" x2="68.7" y2="499.6" stroke="#1c1c1c" stroke-width="1.3" />
<text x="55.4" y="499.6" font-family='"Liberation Serif", serif' font-size="17.3" fill="#000" text-anchor="middle" font-weight="normal" transform="rotate(-90 55.4 499.6)" stroke="#000" stroke-width="0.2" >2.0</text>
<line x1="79.6" y1="464.7" x2="68.7" y2="464.7" stroke="#1c1c1c" stroke-width="1.3" />
<text x="55.4" y="464.7" font-family='"Liberation Serif", serif' font-size="17.3" fill="#000" text-anchor="middle" font-weight="normal" transform="rotate(-90 55.4 464.7)" stroke="#000" stroke-width="0.2" >2.5</text>
<text x="196.6" y="793" font-family='"Liberation Serif", serif' font-size="17.5" fill="#000" text-anchor="middle" font-weight="normal" stroke="#000" stroke-width="0.2" >PC1</text>
<text x="15.1" y="588.3" font-family='"Liberation Serif", serif' font-size="17.5" fill="#000" text-anchor="middle" font-weight="normal" transform="rotate(-90 15.1 588.3)" stroke="#000" stroke-width="0.2" >PC2</text>
<g clip-path="url(#clipb1)">
<circle cx="252.2" cy="639.2" r="111.6" fill="none" stroke="#ff0000" stroke-width="1.2"/>
<text x="220.03" y="618.22" font-family='"Liberation Serif", serif' font-size="12" fill="#000" text-anchor="start" font-weight="normal" stroke="#000" stroke-width="0.25" >sit29</text>
<text x="241.67" y="623.02" font-family='"Liberation Serif", serif' font-size="12" fill="#000" text-anchor="start" font-weight="normal" stroke="#000" stroke-width="0.25" >sit3</text>
<text x="218.87" y="629.74" font-family='"Liberation Serif", serif' font-size="12" fill="#000" text-anchor="start" font-weight="normal" stroke="#000" stroke-width="0.25" >sit4</text>
<text x="247.47" y="629.9" font-family='"Liberation Serif", serif' font-size="12" fill="#000" text-anchor="start" font-weight="normal" stroke="#000" stroke-width="0.25" >sit34</text>
<text x="260.03" y="627.22" font-family='"Liberation Serif", serif' font-size="12" fill="#000" text-anchor="start" font-weight="normal" stroke="#000" stroke-width="0.25" >sit45</text>
<text x="273.95" y="627.7" font-family='"Liberation Serif", serif' font-size="12" fill="#000" text-anchor="start" font-weight="normal" stroke="#000" stroke-width="0.25" >sit41</text>
<text x="274.43" y="632.9" font-family='"Liberation Serif", serif' font-size="12" fill="#000" text-anchor="start" font-weight="normal" stroke="#000" stroke-width="0.25" >sit36</text>
<text x="257.55" y="635.66" font-family='"Liberation Serif", serif' font-size="12" fill="#000" text-anchor="start" font-weight="normal" stroke="#000" stroke-width="0.25" >sit53</text>
<text x="272.43" y="636.38" font-family='"Liberation Serif", serif' font-size="12" fill="#000" text-anchor="start" font-weight="normal" stroke="#000" stroke-width="0.25" >sit48</text>
<text x="264.51" y="638.1" font-family='"Liberation Serif", serif' font-size="12" fill="#000" text-anchor="start" font-weight="normal" stroke="#000" stroke-width="0.25" >sit37</text>
<text x="266.51" y="642.34" font-family='"Liberation Serif", serif' font-size="12" fill="#000" text-anchor="start" font-weight="normal" stroke="#000" stroke-width="0.25" >sit31</text>
<text x="280.67" y="647.3" font-family='"Liberation Serif", serif' font-size="12" fill="#000" text-anchor="start" font-weight="normal" stroke="#000" stroke-width="0.25" >sit60</text>
<text x="296.03" y="648.74" font-family='"Liberation Serif", serif' font-size="12" fill="#000" text-anchor="start" font-weight="normal" stroke="#000" stroke-width="0.25" >sit27</text>
<text x="281.39" y="652.78" font-family='"Liberation Serif", serif' font-size="12" fill="#000" text-anchor="start" font-weight="normal" stroke="#000" stroke-width="0.25" >sit61</text>
<text x="263.15" y="651.3" font-family='"Liberation Serif", serif' font-size="12" fill="#000" text-anchor="start" font-weight="normal" stroke="#000" stroke-width="0.25" >sit14</text>
<text x="266.71" y="654.22" font-family='"Liberation Serif", serif' font-size="12" fill="#000" text-anchor="start" font-weight="normal" stroke="#000" stroke-width="0.25" >sit5</text>
<text x="260.99" y="662.02" font-family='"Liberation Serif", serif' font-size="12" fill="#000" text-anchor="start" font-weight="normal" stroke="#000" stroke-width="0.25" >sit17</text>
<text x="254.31" y="666.62" font-family='"Liberation Serif", serif' font-size="12" fill="#000" text-anchor="start" font-weight="normal" stroke="#000" stroke-width="0.25" >sit6</text>
<text x="237.71" y="659.06" font-family='"Liberation Serif", serif' font-size="12" fill="#000" text-anchor="start" font-weight="normal" stroke="#000" stroke-width="0.25" >sit11</text>
<text x="242.51" y="655.54" font-family='"Liberation Serif", serif' font-size="12" fill="#000" text-anchor="start" font-weight="normal" stroke="#000" stroke-width="0.25" >sit58</text>
<text x="228.83" y="657.9" font-family='"Liberation Serif", serif' font-size="12" fill="#000" text-anchor="start" font-weight="normal" stroke="#000" stroke-width="0.25" >sit28</text>
<text x="211.07" y="658.58" font-family='"Liberation Serif", serif' font-size="12" fill="#000" text-anchor="start" font-weight="normal" stroke="#000" stroke-width="0.25" >sit57</text>
<text x="216.67" y="654.06" font-family='"Liberation Serif", serif' font-size="12" fill="#000" text-anchor="start" font-weight="normal" stroke="#000" stroke-width="0.25" >sit20</text>
<text x="229.31" y="654.06" font-family='"Liberation Serif", serif' font-size="12" fill="#000" text-anchor="start" font-weight="normal" stroke="#000" stroke-width="0.25" >sit44</text>
<text x="233.47" y="632.58" font-family='"Liberation Serif", serif' font-size="12" fill="#000" text-anchor="start" font-weight="normal" stroke="#000" stroke-width="0.25" >sit19</text>
<text x="234.91" y="633.06" font-family='"Liberation Serif", serif' font-size="12" fill="#000" text-anchor="start" font-weight="normal" stroke="#000" stroke-width="0.25" >sit40</text>
<text x="240.11" y="635.26" font-family='"Liberation Serif", serif' font-size="12" fill="#000" text-anchor="start" font-weight="normal" stroke="#000" stroke-width="0.25" >sit50</text>
<text x="246.51" y="637.46" font-family='"Liberation Serif", serif' font-size="12" fill="#000" text-anchor="start" font-weight="normal" stroke="#000" stroke-width="0.25" >sit12</text>
<text x="262.31" y="644.86" font-family='"Liberation Serif", serif' font-size="12" fill="#000" text-anchor="start" font-weight="normal" stroke="#000" stroke-width="0.25" >sit2</text>
<text x="256.91" y="643.46" font-family='"Liberation Serif", serif' font-size="12" fill="#000" text-anchor="start" font-weight="normal" stroke="#000" stroke-width="0.25" >sit32</text>
<text x="241.2" y="633.38" font-family='"Liberation Serif", serif' font-size="12" fill="#000" text-anchor="start" font-weight="normal" stroke="#000" stroke-width="0.25" >sit58</text>
<text x="229.67" y="634.99" font-family='"Liberation Serif", serif' font-size="12" fill="#000" text-anchor="start" font-weight="normal" stroke="#000" stroke-width="0.25" >sit32</text>
<text x="244.07" y="634.93" font-family='"Liberation Serif", serif' font-size="12" fill="#000" text-anchor="start" font-weight="normal" stroke="#000" stroke-width="0.25" >sit11</text>
<text x="225.18" y="635.78" font-family='"Liberation Serif", serif' font-size="12" fill="#000" text-anchor="start" font-weight="normal" stroke="#000" stroke-width="0.25" >sit43</text>
<text x="235.79" y="636.11" font-family='"Liberation Serif", serif' font-size="12" fill="#000" text-anchor="start" font-weight="normal" stroke="#000" stroke-width="0.25" >sit78</text>
<text x="224.56" y="637.87" font-family='"Liberation Serif", serif' font-size="12" fill="#000" text-anchor="start" font-weight="normal" stroke="#000" stroke-width="0.25" >sit26</text>
<text x="234.08" y="638.05" font-family='"Liberation Serif", serif' font-size="12" fill="#000" text-anchor="start" font-weight="normal" stroke="#000" stroke-width="0.25" >sit89</text>
<text x="245.06" y="638.08" font-family='"Liberation Serif", serif' font-size="12" fill="#000" text-anchor="start" font-weight="normal" stroke="#000" stroke-width="0.25" >sit68</text>
<text x="222.42" y="639.17" font-family='"Liberation Serif", serif' font-size="12" fill="#000" text-anchor="start" font-weight="normal" stroke="#000" stroke-width="0.25" >sit97</text>
<text x="231.05" y="639.25" font-family='"Liberation Serif", serif' font-size="12" fill="#000" text-anchor="start" font-weight="normal" stroke="#000" stroke-width="0.25" >sit61</text>
<text x="239.86" y="638.91" font-family='"Liberation Serif", serif' font-size="12" fill="#000" text-anchor="start" font-weight="normal" stroke="#000" stroke-width="0.25" >sit61</text>
<text x="219.64" y="640.51" font-family='"Liberation Serif", serif' font-size="12" fill="#000" text-anchor="start" font-weight="normal" stroke="#000" stroke-width="0.25" >sit36</text>
<text x="227.83" y="640.42" font-family='"Liberation Serif", serif' font-size="12" fill="#000" text-anchor="start" font-weight="normal" stroke="#000" stroke-width="0.25" >sit86</text>
<text x="238.59" y="641.18" font-family='"Liberation Serif", serif' font-size="12" fill="#000" text-anchor="start" font-weight="normal" stroke="#000" stroke-width="0.25" >sit29</text>
<text x="218.65" y="642.88" font-family='"Liberation Serif", serif' font-size="12" fill="#000" text-anchor="start" font-weight="normal" stroke="#000" stroke-width="0.25" >sit88</text>
<text x="228.61" y="642.69" font-family='"Liberation Serif", serif' font-size="12" fill="#000" text-anchor="start" font-weight="normal" stroke="#000" stroke-width="0.25" >sit88</text>
<text x="238.75" y="642.56" font-family='"Liberation Serif", serif' font-size="12" fill="#000" text-anchor="start" font-weight="normal" stroke="#000" stroke-width="0.25" >sit54</text>
<text x="228.94" y="644.85" font-family='"Liberation Serif", serif' font-size="12" fill="#000" text-anchor="start" font-weight="normal" stroke="#000" stroke-width="0.25" >sit24</text>
<text x="237.66" y="644.31" font-family='"Liberation Serif", serif' font-size="12" fill="#000" text-anchor="start" font-weight="normal" stroke="#000" stroke-width="0.25" >sit69</text>
<text x="231.95" y="645.93" font-family='"Liberation Serif", serif' font-size="12" fill="#000" text-anchor="start" font-weight="normal" stroke="#000" stroke-width="0.25" >sit28</text>
<text x="242.45" y="646.21" font-family='"Liberation Serif", serif' font-size="12" fill="#000" text-anchor="start" font-weight="normal" stroke="#000" stroke-width="0.25" >sit43</text>
<text x="236.56" y="647.82" font-family='"Liberation Serif", serif' font-size="12" fill="#000" text-anchor="start" font-weight="normal" stroke="#000" stroke-width="0.25" >sit76</text>
<text x="246.97" y="647.61" font-family='"Liberation Serif", serif' font-size="12" fill="#000" text-anchor="start" font-weight="normal" stroke="#000" stroke-width="0.25" >sit77</text>
<text x="212.17" y="648.86" font-family='"Liberation Serif", serif' font-size="12" fill="#000" text-anchor="start" font-weight="normal" stroke="#000" stroke-width="0.25" >sit13</text>
<text x="219.38" y="649.18" font-family='"Liberation Serif", serif' font-size="12" fill="#000" text-anchor="start" font-weight="normal" stroke="#000" stroke-width="0.25" >sit92</text>
<text x="226.55" y="649.35" font-family='"Liberation Serif", serif' font-size="12" fill="#000" text-anchor="start" font-weight="normal" stroke="#000" stroke-width="0.25" >sit43</text>
<text x="236.76" y="649.05" font-family='"Liberation Serif", serif' font-size="12" fill="#000" text-anchor="start" font-weight="normal" stroke="#000" stroke-width="0.25" >sit55</text>
<text x="245.3" y="648.8" font-family='"Liberation Serif", serif' font-size="12" fill="#000" text-anchor="start" font-weight="normal" stroke="#000" stroke-width="0.25" >sit74</text>
<text x="233.64" y="650.71" font-family='"Liberation Serif", serif' font-size="12" fill="#000" text-anchor="start" font-weight="normal" stroke="#000" stroke-width="0.25" >sit34</text>
<text x="241.79" y="650.45" font-family='"Liberation Serif", serif' font-size="12" fill="#000" text-anchor="start" font-weight="normal" stroke="#000" stroke-width="0.25" >sit39</text>
<text x="238.88" y="651.89" font-family='"Liberation Serif", serif' font-size="12" fill="#000" text-anchor="start" font-weight="normal" stroke="#000" stroke-width="0.25" >sit13</text>
<text x="240.33" y="653.01" font-family='"Liberation Serif", serif' font-size="12" fill="#000" text-anchor="start" font-weight="normal" stroke="#000" stroke-width="0.25" >sit70</text>
<line x1="252.2" y1="639.2" x2="190" y2="478.4" stroke="#ff0000" stroke-width="1.2" />
<line x1="190" y1="478.4" x2="189.09" y2="485.95" stroke="#ff0000" stroke-width="1.2" />
<line x1="190" y1="478.4" x2="195.75" y2="483.37" stroke="#ff0000" stroke-width="1.2" />
<line x1="252.2" y1="639.2" x2="87.5" y2="698" stroke="#ff0000" stroke-width="1.2" />
<line x1="87.5" y1="698" x2="95.02" y2="699.1" stroke="#ff0000" stroke-width="1.2" />
<line x1="87.5" y1="698" x2="92.62" y2="692.38" stroke="#ff0000" stroke-width="1.2" />
<line x1="252.2" y1="639.2" x2="247.7" y2="674.1" stroke="#ff0000" stroke-width="1.2" />
<line x1="247.7" y1="674.1" x2="252.1" y2="667.9" stroke="#ff0000" stroke-width="1.2" />
<line x1="247.7" y1="674.1" x2="245.02" y2="666.99" stroke="#ff0000" stroke-width="1.2" />
<line x1="252.2" y1="639.2" x2="261.3" y2="626.8" stroke="#ff0000" stroke-width="1.2" />
<line x1="261.3" y1="626.8" x2="254.99" y2="629.84" stroke="#ff0000" stroke-width="1.2" />
<line x1="261.3" y1="626.8" x2="260.29" y2="633.73" stroke="#ff0000" stroke-width="1.2" />
<line x1="252.2" y1="639.2" x2="252.6" y2="654" stroke="#ff0000" stroke-width="1.2" />
<line x1="252.6" y1="654" x2="255.72" y2="647.73" stroke="#ff0000" stroke-width="1.2" />
<line x1="252.6" y1="654" x2="249.15" y2="647.91" stroke="#ff0000" stroke-width="1.2" />
<text x="200.5" y="482.8" font-family='"Liberation Serif", serif' font-size="12" fill="#ff0000" text-anchor="start" font-weight="normal" stroke="#ff0000" stroke-width="0.2" >chol</text>
<text x="98.4" y="702.2" font-family='"Liberation Serif", serif' font-size="12" fill="#ff0000" text-anchor="start" font-weight="normal" stroke="#ff0000" stroke-width="0.2" >trig</text>
<text x="258.7" y="677.4" font-family='"Liberation Serif", serif' font-size="12" fill="#ff0000" text-anchor="start" font-weight="normal" stroke="#ff0000" stroke-width="0.2" >glob</text>
<text x="271.8" y="630.1" font-family='"Liberation Serif", serif' font-size="12" fill="#ff0000" text-anchor="start" font-weight="normal" stroke="#ff0000" stroke-width="0.2" >cort</text>
<text x="264" y="657.3" font-family='"Liberation Serif", serif' font-size="12" fill="#ff0000" text-anchor="start" font-weight="normal" stroke="#ff0000" stroke-width="0.2" >alb</text>
</g>
<clipPath id="clipb2"><rect x="439.6" y="461" width="234.6" height="254.2"/></clipPath>
<line x1="439.6" y1="596.8" x2="674.2" y2="596.8" stroke="#222" stroke-width="1.3" stroke-dasharray="1.6 2.45"/>
<line x1="597.2" y1="715.2" x2="597.2" y2="461" stroke="#222" stroke-width="1.3" stroke-dasharray="1.6 2.45"/>
<rect x="439.6" y="461" width="234.6" height="254.2" fill="none" stroke="#1c1c1c" stroke-width="1.2"/>
<line x1="446.4" y1="715.2" x2="446.4" y2="725.8" stroke="#1c1c1c" stroke-width="1.3" />
<text x="446.4" y="753" font-family='"Liberation Serif", serif' font-size="17.3" fill="#000" text-anchor="middle" font-weight="normal" stroke="#000" stroke-width="0.2" >-2.0</text>
<line x1="484.1" y1="715.2" x2="484.1" y2="725.8" stroke="#1c1c1c" stroke-width="1.3" />
<line x1="521.8" y1="715.2" x2="521.8" y2="725.8" stroke="#1c1c1c" stroke-width="1.3" />
<text x="521.8" y="753" font-family='"Liberation Serif", serif' font-size="17.3" fill="#000" text-anchor="middle" font-weight="normal" stroke="#000" stroke-width="0.2" >-1.0</text>
<line x1="559.5" y1="715.2" x2="559.5" y2="725.8" stroke="#1c1c1c" stroke-width="1.3" />
<line x1="597.2" y1="715.2" x2="597.2" y2="725.8" stroke="#1c1c1c" stroke-width="1.3" />
<text x="597.2" y="753" font-family='"Liberation Serif", serif' font-size="17.3" fill="#000" text-anchor="middle" font-weight="normal" stroke="#000" stroke-width="0.2" >0.0</text>
<line x1="634.9" y1="715.2" x2="634.9" y2="725.8" stroke="#1c1c1c" stroke-width="1.3" />
<text x="634.9" y="753" font-family='"Liberation Serif", serif' font-size="17.3" fill="#000" text-anchor="middle" font-weight="normal" stroke="#000" stroke-width="0.2" >0.5</text>
<line x1="672.6" y1="715.2" x2="672.6" y2="725.8" stroke="#1c1c1c" stroke-width="1.3" />
<text x="672.6" y="753" font-family='"Liberation Serif", serif' font-size="17.3" fill="#000" text-anchor="middle" font-weight="normal" stroke="#000" stroke-width="0.2" >1.0</text>
<line x1="439.6" y1="709.9" x2="428.7" y2="709.9" stroke="#1c1c1c" stroke-width="1.3" />
<text x="415.4" y="709.9" font-family='"Liberation Serif", serif' font-size="17.3" fill="#000" text-anchor="middle" font-weight="normal" transform="rotate(-90 415.4 709.9)" stroke="#000" stroke-width="0.2" >-1.5</text>
<line x1="439.6" y1="672.2" x2="428.7" y2="672.2" stroke="#1c1c1c" stroke-width="1.3" />
<line x1="439.6" y1="634.5" x2="428.7" y2="634.5" stroke="#1c1c1c" stroke-width="1.3" />
<text x="415.4" y="634.5" font-family='"Liberation Serif", serif' font-size="17.3" fill="#000" text-anchor="middle" font-weight="normal" transform="rotate(-90 415.4 634.5)" stroke="#000" stroke-width="0.2" >-0.5</text>
<line x1="439.6" y1="596.8" x2="428.7" y2="596.8" stroke="#1c1c1c" stroke-width="1.3" />
<text x="415.4" y="596.8" font-family='"Liberation Serif", serif' font-size="17.3" fill="#000" text-anchor="middle" font-weight="normal" transform="rotate(-90 415.4 596.8)" stroke="#000" stroke-width="0.2" >0.0</text>
<line x1="439.6" y1="559.1" x2="428.7" y2="559.1" stroke="#1c1c1c" stroke-width="1.3" />
<text x="415.4" y="559.1" font-family='"Liberation Serif", serif' font-size="17.3" fill="#000" text-anchor="middle" font-weight="normal" transform="rotate(-90 415.4 559.1)" stroke="#000" stroke-width="0.2" >0.5</text>
<line x1="439.6" y1="521.4" x2="428.7" y2="521.4" stroke="#1c1c1c" stroke-width="1.3" />
<text x="415.4" y="521.4" font-family='"Liberation Serif", serif' font-size="17.3" fill="#000" text-anchor="middle" font-weight="normal" transform="rotate(-90 415.4 521.4)" stroke="#000" stroke-width="0.2" >1.0</text>
<line x1="439.6" y1="483.7" x2="428.7" y2="483.7" stroke="#1c1c1c" stroke-width="1.3" />
<text x="415.4" y="483.7" font-family='"Liberation Serif", serif' font-size="17.3" fill="#000" text-anchor="middle" font-weight="normal" transform="rotate(-90 415.4 483.7)" stroke="#000" stroke-width="0.2" >1.5</text>
<text x="556.9" y="793" font-family='"Liberation Serif", serif' font-size="17.5" fill="#000" text-anchor="middle" font-weight="normal" stroke="#000" stroke-width="0.2" >PC1</text>
<text x="375.1" y="588.1" font-family='"Liberation Serif", serif' font-size="17.5" fill="#000" text-anchor="middle" font-weight="normal" transform="rotate(-90 375.1 588.1)" stroke="#000" stroke-width="0.2" >PC2</text>
<g clip-path="url(#clipb2)">
<text x="559.9" y="538.2" font-family='"Liberation Serif", serif' font-size="12" fill="#000" text-anchor="start" font-weight="normal" stroke="#000" stroke-width="0.25" >sit29</text>
<text x="586.2" y="550.2" font-family='"Liberation Serif", serif' font-size="12" fill="#000" text-anchor="start" font-weight="normal" stroke="#000" stroke-width="0.25" >sit3</text>
<text x="557.7" y="567" font-family='"Liberation Serif", serif' font-size="12" fill="#000" text-anchor="start" font-weight="normal" stroke="#000" stroke-width="0.25" >sit4</text>
<text x="594.2" y="567.4" font-family='"Liberation Serif", serif' font-size="12" fill="#000" text-anchor="start" font-weight="normal" stroke="#000" stroke-width="0.25" >sit34</text>
<text x="609.9" y="560.7" font-family='"Liberation Serif", serif' font-size="12" fill="#000" text-anchor="start" font-weight="normal" stroke="#000" stroke-width="0.25" >sit45</text>
<text x="627.3" y="561.9" font-family='"Liberation Serif", serif' font-size="12" fill="#000" text-anchor="start" font-weight="normal" stroke="#000" stroke-width="0.25" >sit41</text>
<text x="627.9" y="574.9" font-family='"Liberation Serif", serif' font-size="12" fill="#000" text-anchor="start" font-weight="normal" stroke="#000" stroke-width="0.25" >sit36</text>
<text x="606.8" y="581.8" font-family='"Liberation Serif", serif' font-size="12" fill="#000" text-anchor="start" font-weight="normal" stroke="#000" stroke-width="0.25" >sit53</text>
<text x="625.4" y="583.6" font-family='"Liberation Serif", serif' font-size="12" fill="#000" text-anchor="start" font-weight="normal" stroke="#000" stroke-width="0.25" >sit48</text>
<text x="615.5" y="587.9" font-family='"Liberation Serif", serif' font-size="12" fill="#000" text-anchor="start" font-weight="normal" stroke="#000" stroke-width="0.25" >sit37</text>
<text x="618" y="598.5" font-family='"Liberation Serif", serif' font-size="12" fill="#000" text-anchor="start" font-weight="normal" stroke="#000" stroke-width="0.25" >sit31</text>
<text x="635.7" y="610.9" font-family='"Liberation Serif", serif' font-size="12" fill="#000" text-anchor="start" font-weight="normal" stroke="#000" stroke-width="0.25" >sit60</text>
<text x="654.9" y="614.5" font-family='"Liberation Serif", serif' font-size="12" fill="#000" text-anchor="start" font-weight="normal" stroke="#000" stroke-width="0.25" >sit27</text>
<text x="636.6" y="624.6" font-family='"Liberation Serif", serif' font-size="12" fill="#000" text-anchor="start" font-weight="normal" stroke="#000" stroke-width="0.25" >sit61</text>
<text x="613.8" y="620.9" font-family='"Liberation Serif", serif' font-size="12" fill="#000" text-anchor="start" font-weight="normal" stroke="#000" stroke-width="0.25" >sit14</text>
<text x="617.5" y="628.2" font-family='"Liberation Serif", serif' font-size="12" fill="#000" text-anchor="start" font-weight="normal" stroke="#000" stroke-width="0.25" >sit5</text>
<text x="611.1" y="647.7" font-family='"Liberation Serif", serif' font-size="12" fill="#000" text-anchor="start" font-weight="normal" stroke="#000" stroke-width="0.25" >sit17</text>
<text x="602" y="659.2" font-family='"Liberation Serif", serif' font-size="12" fill="#000" text-anchor="start" font-weight="normal" stroke="#000" stroke-width="0.25" >sit6</text>
<text x="582" y="640.3" font-family='"Liberation Serif", serif' font-size="12" fill="#000" text-anchor="start" font-weight="normal" stroke="#000" stroke-width="0.25" >sit11</text>
<text x="588" y="631.5" font-family='"Liberation Serif", serif' font-size="12" fill="#000" text-anchor="start" font-weight="normal" stroke="#000" stroke-width="0.25" >sit58</text>
<text x="570.9" y="637.4" font-family='"Liberation Serif", serif' font-size="12" fill="#000" text-anchor="start" font-weight="normal" stroke="#000" stroke-width="0.25" >sit28</text>
<text x="548.7" y="639.1" font-family='"Liberation Serif", serif' font-size="12" fill="#000" text-anchor="start" font-weight="normal" stroke="#000" stroke-width="0.25" >sit57</text>
<text x="555.7" y="627.8" font-family='"Liberation Serif", serif' font-size="12" fill="#000" text-anchor="start" font-weight="normal" stroke="#000" stroke-width="0.25" >sit20</text>
<text x="571.5" y="627.8" font-family='"Liberation Serif", serif' font-size="12" fill="#000" text-anchor="start" font-weight="normal" stroke="#000" stroke-width="0.25" >sit44</text>
<text x="576.7" y="574.1" font-family='"Liberation Serif", serif' font-size="12" fill="#000" text-anchor="start" font-weight="normal" stroke="#000" stroke-width="0.25" >sit19</text>
<text x="578.5" y="575.3" font-family='"Liberation Serif", serif' font-size="12" fill="#000" text-anchor="start" font-weight="normal" stroke="#000" stroke-width="0.25" >sit40</text>
<text x="585" y="580.8" font-family='"Liberation Serif", serif' font-size="12" fill="#000" text-anchor="start" font-weight="normal" stroke="#000" stroke-width="0.25" >sit50</text>
<text x="593" y="586.3" font-family='"Liberation Serif", serif' font-size="12" fill="#000" text-anchor="start" font-weight="normal" stroke="#000" stroke-width="0.25" >sit12</text>
<text x="612" y="604.8" font-family='"Liberation Serif", serif' font-size="12" fill="#000" text-anchor="start" font-weight="normal" stroke="#000" stroke-width="0.25" >sit2</text>
<text x="606" y="601.3" font-family='"Liberation Serif", serif' font-size="12" fill="#000" text-anchor="start" font-weight="normal" stroke="#000" stroke-width="0.25" >sit32</text>
<text x="586.37" y="576.1" font-family='"Liberation Serif", serif' font-size="12" fill="#000" text-anchor="start" font-weight="normal" stroke="#000" stroke-width="0.25" >sit58</text>
<text x="571.95" y="580.12" font-family='"Liberation Serif", serif' font-size="12" fill="#000" text-anchor="start" font-weight="normal" stroke="#000" stroke-width="0.25" >sit32</text>
<text x="589.95" y="579.98" font-family='"Liberation Serif", serif' font-size="12" fill="#000" text-anchor="start" font-weight="normal" stroke="#000" stroke-width="0.25" >sit11</text>
<text x="566.35" y="582.09" font-family='"Liberation Serif", serif' font-size="12" fill="#000" text-anchor="start" font-weight="normal" stroke="#000" stroke-width="0.25" >sit43</text>
<text x="579.61" y="582.93" font-family='"Liberation Serif", serif' font-size="12" fill="#000" text-anchor="start" font-weight="normal" stroke="#000" stroke-width="0.25" >sit78</text>
<text x="565.57" y="587.33" font-family='"Liberation Serif", serif' font-size="12" fill="#000" text-anchor="start" font-weight="normal" stroke="#000" stroke-width="0.25" >sit26</text>
<text x="577.46" y="587.78" font-family='"Liberation Serif", serif' font-size="12" fill="#000" text-anchor="start" font-weight="normal" stroke="#000" stroke-width="0.25" >sit89</text>
<text x="591.2" y="587.86" font-family='"Liberation Serif", serif' font-size="12" fill="#000" text-anchor="start" font-weight="normal" stroke="#000" stroke-width="0.25" >sit68</text>
<text x="562.89" y="590.58" font-family='"Liberation Serif", serif' font-size="12" fill="#000" text-anchor="start" font-weight="normal" stroke="#000" stroke-width="0.25" >sit97</text>
<text x="573.68" y="590.76" font-family='"Liberation Serif", serif' font-size="12" fill="#000" text-anchor="start" font-weight="normal" stroke="#000" stroke-width="0.25" >sit61</text>
<text x="584.69" y="589.93" font-family='"Liberation Serif", serif' font-size="12" fill="#000" text-anchor="start" font-weight="normal" stroke="#000" stroke-width="0.25" >sit61</text>
<text x="559.42" y="593.92" font-family='"Liberation Serif", serif' font-size="12" fill="#000" text-anchor="start" font-weight="normal" stroke="#000" stroke-width="0.25" >sit36</text>
<text x="569.66" y="593.7" font-family='"Liberation Serif", serif' font-size="12" fill="#000" text-anchor="start" font-weight="normal" stroke="#000" stroke-width="0.25" >sit86</text>
<text x="583.11" y="595.6" font-family='"Liberation Serif", serif' font-size="12" fill="#000" text-anchor="start" font-weight="normal" stroke="#000" stroke-width="0.25" >sit29</text>
<text x="558.18" y="599.85" font-family='"Liberation Serif", serif' font-size="12" fill="#000" text-anchor="start" font-weight="normal" stroke="#000" stroke-width="0.25" >sit88</text>
<text x="570.63" y="599.37" font-family='"Liberation Serif", serif' font-size="12" fill="#000" text-anchor="start" font-weight="normal" stroke="#000" stroke-width="0.25" >sit88</text>
<text x="583.31" y="599.05" font-family='"Liberation Serif", serif' font-size="12" fill="#000" text-anchor="start" font-weight="normal" stroke="#000" stroke-width="0.25" >sit54</text>
<text x="571.05" y="604.79" font-family='"Liberation Serif", serif' font-size="12" fill="#000" text-anchor="start" font-weight="normal" stroke="#000" stroke-width="0.25" >sit24</text>
<text x="581.94" y="603.42" font-family='"Liberation Serif", serif' font-size="12" fill="#000" text-anchor="start" font-weight="normal" stroke="#000" stroke-width="0.25" >sit69</text>
<text x="574.81" y="607.49" font-family='"Liberation Serif", serif' font-size="12" fill="#000" text-anchor="start" font-weight="normal" stroke="#000" stroke-width="0.25" >sit28</text>
<text x="587.94" y="608.18" font-family='"Liberation Serif", serif' font-size="12" fill="#000" text-anchor="start" font-weight="normal" stroke="#000" stroke-width="0.25" >sit43</text>
<text x="580.57" y="612.2" font-family='"Liberation Serif", serif' font-size="12" fill="#000" text-anchor="start" font-weight="normal" stroke="#000" stroke-width="0.25" >sit76</text>
<text x="593.59" y="611.68" font-family='"Liberation Serif", serif' font-size="12" fill="#000" text-anchor="start" font-weight="normal" stroke="#000" stroke-width="0.25" >sit77</text>
<text x="550.07" y="614.8" font-family='"Liberation Serif", serif' font-size="12" fill="#000" text-anchor="start" font-weight="normal" stroke="#000" stroke-width="0.25" >sit13</text>
<text x="559.09" y="615.59" font-family='"Liberation Serif", serif' font-size="12" fill="#000" text-anchor="start" font-weight="normal" stroke="#000" stroke-width="0.25" >sit92</text>
<text x="568.06" y="616.02" font-family='"Liberation Serif", serif' font-size="12" fill="#000" text-anchor="start" font-weight="normal" stroke="#000" stroke-width="0.25" >sit43</text>
<text x="580.82" y="615.27" font-family='"Liberation Serif", serif' font-size="12" fill="#000" text-anchor="start" font-weight="normal" stroke="#000" stroke-width="0.25" >sit55</text>
<text x="591.49" y="614.65" font-family='"Liberation Serif", serif' font-size="12" fill="#000" text-anchor="start" font-weight="normal" stroke="#000" stroke-width="0.25" >sit74</text>
<text x="576.92" y="619.44" font-family='"Liberation Serif", serif' font-size="12" fill="#000" text-anchor="start" font-weight="normal" stroke="#000" stroke-width="0.25" >sit34</text>
<text x="587.1" y="618.79" font-family='"Liberation Serif", serif' font-size="12" fill="#000" text-anchor="start" font-weight="normal" stroke="#000" stroke-width="0.25" >sit39</text>
<text x="583.47" y="622.38" font-family='"Liberation Serif", serif' font-size="12" fill="#000" text-anchor="start" font-weight="normal" stroke="#000" stroke-width="0.25" >sit13</text>
<text x="585.28" y="625.19" font-family='"Liberation Serif", serif' font-size="12" fill="#000" text-anchor="start" font-weight="normal" stroke="#000" stroke-width="0.25" >sit70</text>
<line x1="597.2" y1="596.8" x2="541" y2="522" stroke="#ff0000" stroke-width="1.2" />
<line x1="541" y1="522" x2="542.18" y2="529.51" stroke="#ff0000" stroke-width="1.2" />
<line x1="541" y1="522" x2="547.88" y2="525.22" stroke="#ff0000" stroke-width="1.2" />
<line x1="597.2" y1="596.8" x2="447.7" y2="624.2" stroke="#ff0000" stroke-width="1.2" />
<line x1="447.7" y1="624.2" x2="454.94" y2="626.5" stroke="#ff0000" stroke-width="1.2" />
<line x1="447.7" y1="624.2" x2="453.66" y2="619.48" stroke="#ff0000" stroke-width="1.2" />
<line x1="597.2" y1="596.8" x2="606.3" y2="590.9" stroke="#ff0000" stroke-width="1.2" />
<line x1="606.3" y1="590.9" x2="599.33" y2="591.5" stroke="#ff0000" stroke-width="1.2" />
<line x1="606.3" y1="590.9" x2="602.9" y2="597.02" stroke="#ff0000" stroke-width="1.2" />
<line x1="597.2" y1="596.8" x2="593.1" y2="612.2" stroke="#ff0000" stroke-width="1.2" />
<line x1="593.1" y1="612.2" x2="597.87" y2="607.07" stroke="#ff0000" stroke-width="1.2" />
<line x1="593.1" y1="612.2" x2="591.51" y2="605.38" stroke="#ff0000" stroke-width="1.2" />
<line x1="597.2" y1="596.8" x2="596.5" y2="605.5" stroke="#ff0000" stroke-width="1.2" />
<line x1="596.5" y1="605.5" x2="599.73" y2="600.45" stroke="#ff0000" stroke-width="1.2" />
<line x1="596.5" y1="605.5" x2="594.12" y2="599.99" stroke="#ff0000" stroke-width="1.2" />
<text x="551.2" y="526" font-family='"Liberation Serif", serif' font-size="12" fill="#ff0000" text-anchor="start" font-weight="normal" stroke="#ff0000" stroke-width="0.2" >chol</text>
<text x="458.8" y="627.5" font-family='"Liberation Serif", serif' font-size="12" fill="#ff0000" text-anchor="start" font-weight="normal" stroke="#ff0000" stroke-width="0.2" >trig</text>
<text x="616.1" y="594.7" font-family='"Liberation Serif", serif' font-size="12" fill="#ff0000" text-anchor="start" font-weight="normal" stroke="#ff0000" stroke-width="0.2" >cort</text>
<text x="609.3" y="607.1" font-family='"Liberation Serif", serif' font-size="12" fill="#ff0000" text-anchor="start" font-weight="normal" stroke="#ff0000" stroke-width="0.2" >alb</text>
<text x="604.7" y="616.2" font-family='"Liberation Serif", serif' font-size="12" fill="#ff0000" text-anchor="start" font-weight="normal" stroke="#ff0000" stroke-width="0.2" >glob</text>
</g>
</svg>
</body></html>
